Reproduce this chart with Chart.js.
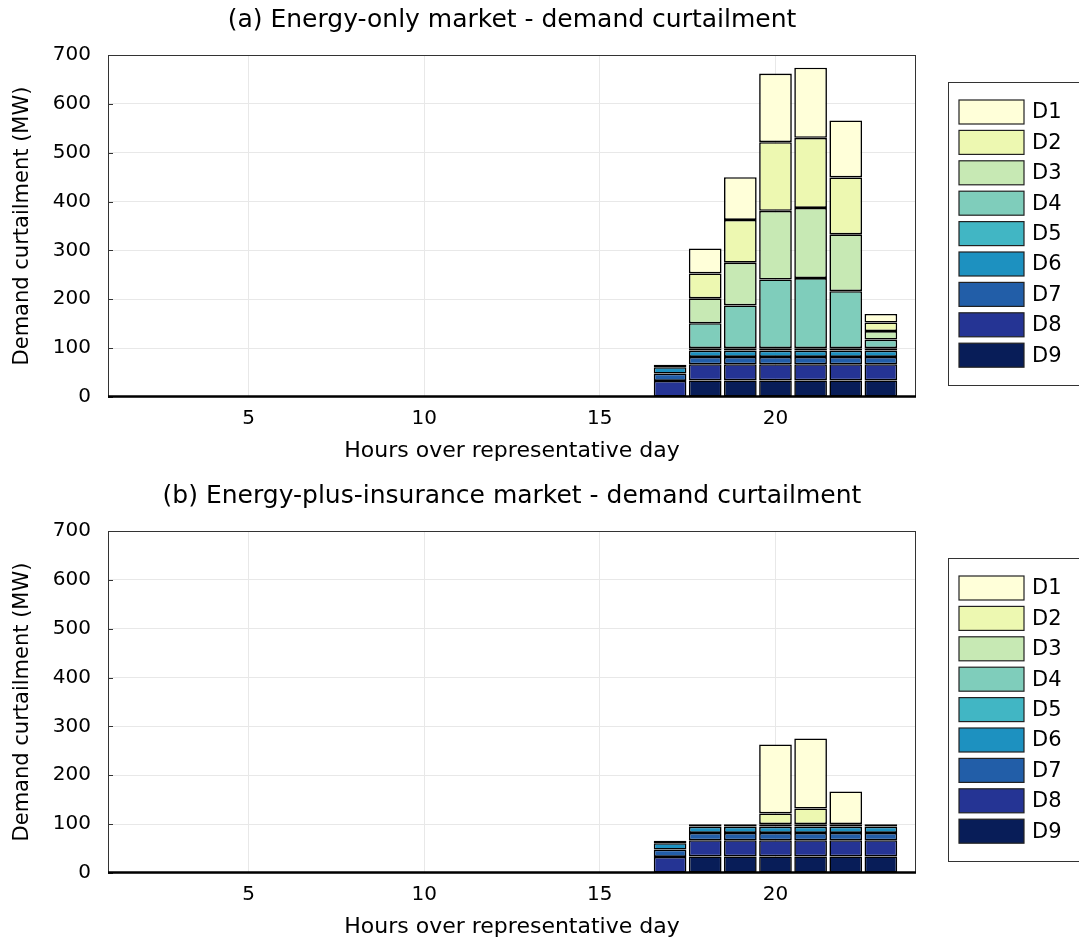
<!DOCTYPE html>
<html>
<head>
<meta charset="utf-8">
<title>Demand curtailment</title>
<script src="https://cdn.jsdelivr.net/npm/chart.js@4.4.0/dist/chart.umd.min.js"></script>
<style>
  html, body { margin: 0; padding: 0; background: #fff; }
  canvas { display: block; }
</style>
</head>
<body>
<canvas id="chartA" width="1079" height="476"></canvas>
<canvas id="chartB" width="1079" height="469"></canvas>
<script>
// Data (hours 1..24, MW)
const hours = [1, 2, 3, 4, 5, 6, 7, 8, 9, 10, 11, 12, 13, 14, 15, 16, 17, 18, 19, 20, 21, 22, 23, 24];
const seriesNames = ['D1', 'D2', 'D3', 'D4', 'D5', 'D6', 'D7', 'D8', 'D9'];
const seriesColors = ['#ffffd9', '#edf8b1', '#c7e9b4', '#7fcdbb', '#41b6c4', '#1d91c0', '#225ea8', '#253494', '#081d58'];
const xTicks = [5, 10, 15, 20];
const yTicks = [0, 100, 200, 300, 400, 500, 600, 700];

// (a) energy-only market
const aD1 = [0, 0, 0, 0, 0, 0, 0, 0, 0, 0, 0, 0, 0, 0, 0, 0, 0, 51, 87.5, 140.5, 143.5, 116.5, 17.5, 0];
const aD2 = [0, 0, 0, 0, 0, 0, 0, 0, 0, 0, 0, 0, 0, 0, 0, 0, 0, 51, 87.5, 140.5, 143.5, 116.5, 17.5, 0];
const aD3 = [0, 0, 0, 0, 0, 0, 0, 0, 0, 0, 0, 0, 0, 0, 0, 0, 0, 51, 87.5, 140.5, 143.5, 116.5, 17.5, 0];
const aD4 = [0, 0, 0, 0, 0, 0, 0, 0, 0, 0, 0, 0, 0, 0, 0, 0, 0, 51, 87.5, 140.5, 143.5, 116.5, 17.5, 0];
const aD5 = [0, 0, 0, 0, 0, 0, 0, 0, 0, 0, 0, 0, 0, 0, 0, 0, 5, 5, 5, 5, 5, 5, 5, 0];
const aD6 = [0, 0, 0, 0, 0, 0, 0, 0, 0, 0, 0, 0, 0, 0, 0, 0, 13, 13, 13, 13, 13, 13, 13, 0];
const aD7 = [0, 0, 0, 0, 0, 0, 0, 0, 0, 0, 0, 0, 0, 0, 0, 0, 15, 15, 15, 15, 15, 15, 15, 0];
const aD8 = [0, 0, 0, 0, 0, 0, 0, 0, 0, 0, 0, 0, 0, 0, 0, 0, 33, 33, 33, 33, 33, 33, 33, 0];
const aD9 = [0, 0, 0, 0, 0, 0, 0, 0, 0, 0, 0, 0, 0, 0, 0, 0, 0, 34, 34, 34, 34, 34, 34, 0];

// (b) energy-plus-insurance market
const bD1 = [0, 0, 0, 0, 0, 0, 0, 0, 0, 0, 0, 0, 0, 0, 0, 0, 0, 0, 0, 141, 143.5, 67, 0, 0];
const bD2 = [0, 0, 0, 0, 0, 0, 0, 0, 0, 0, 0, 0, 0, 0, 0, 0, 0, 0, 0, 22, 32, 0, 0, 0];
const bD3 = [0, 0, 0, 0, 0, 0, 0, 0, 0, 0, 0, 0, 0, 0, 0, 0, 0, 0, 0, 0, 0, 0, 0, 0];
const bD4 = [0, 0, 0, 0, 0, 0, 0, 0, 0, 0, 0, 0, 0, 0, 0, 0, 0, 0, 0, 0, 0, 0, 0, 0];
const bD5 = [0, 0, 0, 0, 0, 0, 0, 0, 0, 0, 0, 0, 0, 0, 0, 0, 5, 5, 5, 5, 5, 5, 5, 0];
const bD6 = [0, 0, 0, 0, 0, 0, 0, 0, 0, 0, 0, 0, 0, 0, 0, 0, 13, 13, 13, 13, 13, 13, 13, 0];
const bD7 = [0, 0, 0, 0, 0, 0, 0, 0, 0, 0, 0, 0, 0, 0, 0, 0, 15, 15, 15, 15, 15, 15, 15, 0];
const bD8 = [0, 0, 0, 0, 0, 0, 0, 0, 0, 0, 0, 0, 0, 0, 0, 0, 33, 33, 33, 33, 33, 33, 33, 0];
const bD9 = [0, 0, 0, 0, 0, 0, 0, 0, 0, 0, 0, 0, 0, 0, 0, 0, 0, 34, 34, 34, 34, 34, 34, 0];

const FONT = "'DejaVu Sans', sans-serif";

// frame round the plot area + thick base line, like the original
const framePlugin = {
    id: 'frame',
    afterDatasetsDraw(chart) {
        const { ctx, chartArea: a, scales } = chart;
        ctx.save();
        ctx.strokeStyle = '#333';
        ctx.lineWidth = 1;
        ctx.strokeRect(a.left + 0.5, a.top + 0.5, a.width - 1, a.height - 1);
        // small inward ticks on the y axis
        yTicks.forEach(v => {
            const y = Math.round(scales.y.getPixelForValue(v)) + 0.5;
            ctx.beginPath();
            ctx.moveTo(a.left, y);
            ctx.lineTo(a.left + 5, y);
            ctx.stroke();
        });
        ctx.strokeStyle = '#000';
        ctx.lineWidth = 2.5;
        ctx.beginPath();
        ctx.moveTo(a.left, a.bottom - 0.5);
        ctx.lineTo(a.right, a.bottom - 0.5);
        ctx.stroke();
        ctx.restore();
    }
};

// boxed legend on the right, D1 at top
const boxLegend = {
    id: 'boxLegend',
    afterDraw(chart) {
        const { ctx, chartArea: a } = chart;
        const pitch = 30.4;
        const boxX = a.right + 32;
        const boxY = a.top + 27;
        ctx.save();
        ctx.strokeStyle = '#333';
        ctx.lineWidth = 1;
        ctx.strokeRect(boxX + 0.5, boxY + 0.5, 140, 303);
        ctx.font = '21px ' + FONT;
        ctx.textBaseline = 'middle';
        seriesNames.forEach((name, i) => {
            const y = boxY + 18 + i * pitch;
            ctx.fillStyle = seriesColors[i];
            ctx.fillRect(boxX + 11, y, 65, 24);
            ctx.strokeStyle = '#222';
            ctx.lineWidth = 1.2;
            ctx.strokeRect(boxX + 11, y, 65, 24);
            ctx.fillStyle = '#000';
            ctx.fillText(name, boxX + 84, y + 13);
        });
        ctx.restore();
    }
};

function makeChart(id, titleText, series) {
    const canvas = document.getElementById(id);
    const H = canvas.height;
    // stack from D9 up to D1
    const datasets = [];
    for (let i = seriesNames.length - 1; i >= 0; i--) {
        datasets.push({
            label: seriesNames[i],
            data: series[i],
            backgroundColor: seriesColors[i],
            borderColor: '#000',
            borderWidth: 1.6,
            borderSkipped: false,
            barPercentage: 0.93,
            categoryPercentage: 1.0,
            clip: 0
        });
    }
    return new Chart(canvas, {
        type: 'bar',
        data: { labels: hours, datasets: datasets },
        options: {
            responsive: false,
            animation: false,
            layout: { padding: { left: 0, right: 163, top: 0, bottom: H - 464 } },
            plugins: {
                legend: { display: false },
                tooltip: { enabled: false },
                title: {
                    display: true,
                    text: titleText,
                    fullSize: false,
                    color: '#000',
                    font: { family: FONT, size: 25, weight: 'normal' },
                    padding: { top: 5, bottom: 20 }
                }
            },
            scales: {
                x: {
                    type: 'linear',
                    min: 1,
                    max: 24,
                    offset: false,
                    stacked: true,
                    afterBuildTicks: s => { s.ticks = xTicks.map(v => ({ value: v })); },
                    afterFit: s => { s.height = 67; },
                    grid: { color: '#e8e8e8', drawTicks: false, offset: false },
                    border: { display: false },
                    ticks: { color: '#000', font: { family: FONT, size: 20 }, padding: 10, maxRotation: 0 },
                    title: {
                        display: true,
                        text: 'Hours over representative day',
                        color: '#000',
                        font: { family: FONT, size: 22 },
                        padding: { top: 0, bottom: 0 }
                    }
                },
                y: {
                    min: 0,
                    max: 700,
                    stacked: true,
                    afterBuildTicks: s => { s.ticks = yTicks.map(v => ({ value: v })); },
                    afterFit: s => { s.width = 108; },
                    grid: { color: '#e8e8e8', drawTicks: false },
                    border: { display: false },
                    ticks: { color: '#000', font: { family: FONT, size: 20 }, padding: 17 },
                    title: {
                        display: true,
                        text: 'Demand curtailment (MW)',
                        color: '#000',
                        font: { family: FONT, size: 21 },
                        padding: { top: 10, bottom: 0 }
                    }
                }
            }
        },
        plugins: [framePlugin, boxLegend]
    });
}

makeChart('chartA', '(a) Energy-only market - demand curtailment',
    [aD1, aD2, aD3, aD4, aD5, aD6, aD7, aD8, aD9]);
makeChart('chartB', '(b) Energy-plus-insurance market - demand curtailment',
    [bD1, bD2, bD3, bD4, bD5, bD6, bD7, bD8, bD9]);
</script>
</body>
</html>
